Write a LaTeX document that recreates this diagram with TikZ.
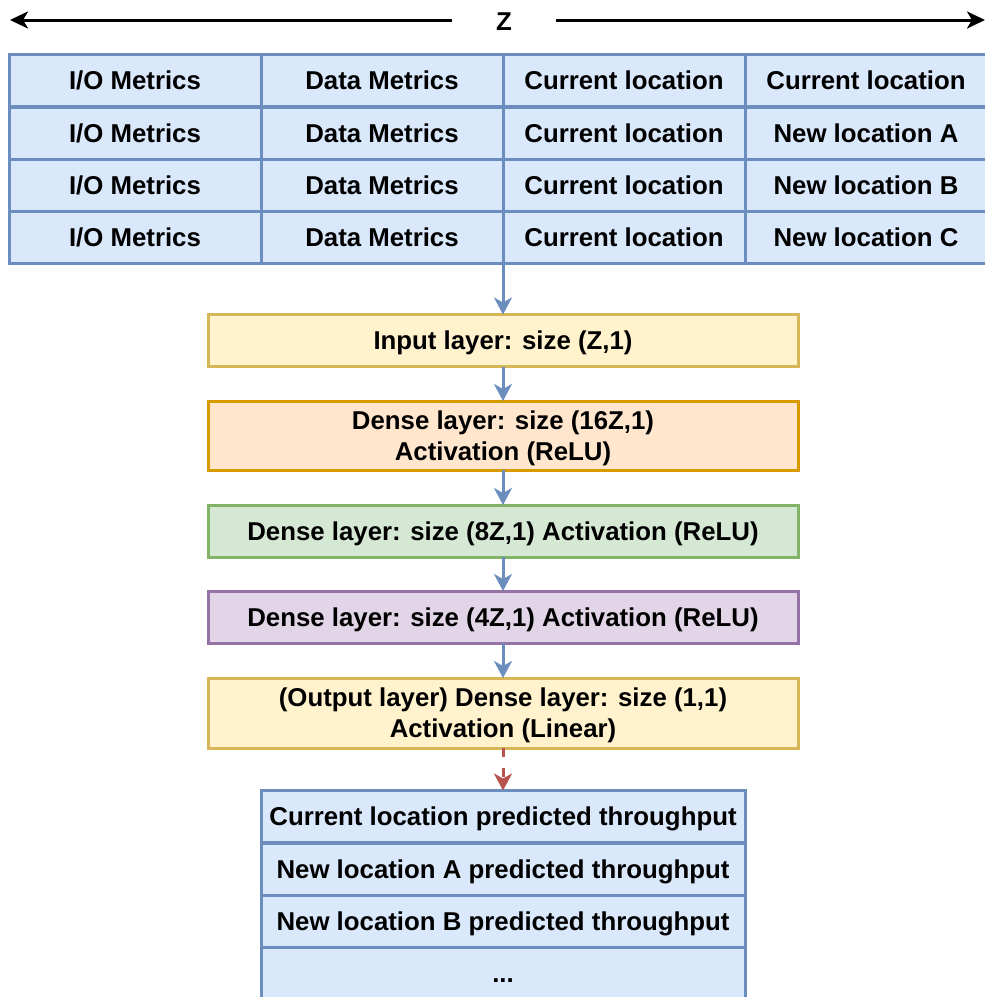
\documentclass[tikz,border=0pt]{standalone}
\usepackage{fontspec}
\setmainfont{Liberation Sans}
\usetikzlibrary{arrows.meta}

\definecolor{blueF}{HTML}{DAE8FC}
\definecolor{blueB}{HTML}{6C8EBF}
\definecolor{yellowF}{HTML}{FFF2CC}
\definecolor{yellowB}{HTML}{D6B656}
\definecolor{orangeF}{HTML}{FFE6CC}
\definecolor{orangeB}{HTML}{D79B00}
\definecolor{greenF}{HTML}{D5E8D4}
\definecolor{greenB}{HTML}{82B366}
\definecolor{purpleF}{HTML}{E1D5E7}
\definecolor{purpleB}{HTML}{9673A6}
\definecolor{redB}{HTML}{B85450}

\newcommand\labelfont{\fontsize{25.8}{31}\selectfont\bfseries}

\tikzset{
  box/.style={draw, line width=3pt, inner sep=0pt, outer sep=0pt, align=center,
              text=black, font=\labelfont, minimum height=52pt,
              text height=18.5pt, text depth=0pt},
  twolines/.style={text height=49.5pt, text depth=0pt},
  cell/.style={box, draw=blueB, fill=blueF},
  layer/.style={box, minimum width=590pt},
  flow/.style={draw=blueB, line width=3pt,
               -{Stealth[length=17pt,width=18pt,inset=5pt]}},
  predflow/.style={draw=redB, line width=3pt, dash pattern=on 9pt off 11pt,
               -{Stealth[length=17pt,width=18pt,inset=5pt]}},
  span/.style={draw=black, line width=3pt,
               -{Stealth[length=18pt,width=17pt,inset=5pt]}}
}

\begin{document}
\begin{tikzpicture}[x=1pt,y=-1pt]
\useasboundingbox (0,0) rectangle (985,997);

% width marker for the feature vector
\node[font=\labelfont, minimum width=104pt, inner sep=0pt,
      text height=18.5pt, text depth=0pt] (z) at (504,21) {Z};
\coordinate (zl) at (10,20);
\coordinate (zr) at (985,20);
\draw[span] (z.west |- zl) -- (zl);
\draw[span] (z.east |- zr) -- (zr);

% feature table
\foreach \r/\y/\loc in {1/80.5/Current location, 2/133/New location A,
                        3/185/New location B, 4/237/New location C}{
  \node[cell, minimum width=252pt] (r\r c1) at (135,\y) {I/O Metrics};
  \node[cell, minimum width=242pt] (r\r c2) at (382,\y) {Data Metrics};
  \node[cell, minimum width=242pt] (r\r c3) at (624,\y) {Current location};
  \node[cell, minimum width=242pt] (r\r c4) at (866,\y) {\loc};
}

% network layers
\node[layer, draw=yellowB, fill=yellowF] (input) at (503,340.5)
  {Input layer: size (Z,1)};
\node[layer, twolines, draw=orangeB, fill=orangeF, minimum height=69pt] (dense1) at (503,435.5)
  {Dense layer: size (16Z,1)\\Activation (ReLU)};
\node[layer, draw=greenB, fill=greenF] (dense2) at (503,531)
  {Dense layer: size (8Z,1) Activation (ReLU)};
\node[layer, draw=purpleB, fill=purpleF] (dense3) at (503,617)
  {Dense layer: size (4Z,1) Activation (ReLU)};
\node[layer, twolines, draw=yellowB, fill=yellowF, minimum height=70pt] (output) at (503,713)
  {(Output layer) Dense layer: size (1,1)\\Activation (Linear)};

% predictions table
\node[cell, minimum width=484pt] (p1) at (503,816.5) {Current location predicted throughput};
\node[cell, minimum width=484pt] (p2) at (503,869) {New location A predicted throughput};
\node[cell, minimum width=484pt] (p3) at (503,921) {New location B predicted throughput};
\node[cell, minimum width=484pt, minimum height=56pt, text height=14pt] (p4) at (503,975) {...};

% connectors
\draw[flow] (r4c2.south east) -- (input.north);
\draw[flow] (input) -- (dense1);
\draw[flow] (dense1) -- (dense2);
\draw[flow] (dense2) -- (dense3);
\draw[flow] (dense3) -- (output);
\draw[predflow] (output) -- (p1);
\end{tikzpicture}
\end{document}
